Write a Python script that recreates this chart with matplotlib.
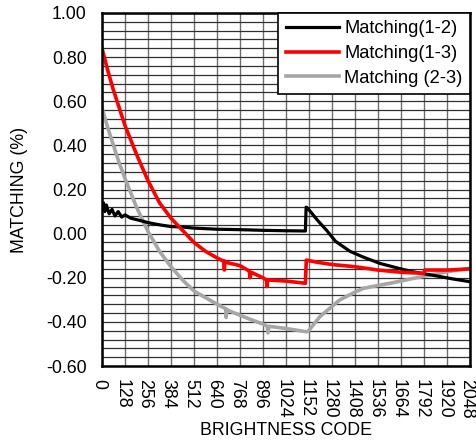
import matplotlib
matplotlib.use("Agg")
import matplotlib.pyplot as plt
import matplotlib.transforms as mtransforms
import numpy as np

plt.rcParams['font.family'] = ['Liberation Sans', 'DejaVu Sans']

# Data (brightness code, matching %)
x12 = [0, 8, 16, 24, 40, 56, 72, 90, 110, 128, 160, 200, 256, 320, 384, 448, 512, 640, 768, 896, 1024, 1132, 1136, 1145, 1160, 1200, 1250, 1300, 1380, 1450, 1547, 1664, 1732, 1850, 1950, 2048]
y12 = [0.12, 0.14, 0.10, 0.13, 0.09, 0.11, 0.08, 0.10, 0.075, 0.085, 0.07, 0.062, 0.05, 0.04, 0.032, 0.03, 0.025, 0.02, 0.018, 0.015, 0.013, 0.012, 0.12, 0.115, 0.10, 0.06, 0.015, -0.035, -0.08, -0.105, -0.135, -0.16, -0.173, -0.19, -0.205, -0.218]

x13 = [0, 32, 64, 96, 128, 192, 256, 320, 384, 448, 512, 576, 640, 678, 681, 684, 690, 768, 820, 824, 830, 896, 915, 918, 922, 1024, 1132, 1137, 1200, 1280, 1408, 1536, 1664, 1790, 1796, 1920, 2048]
y13 = [0.84, 0.74, 0.65, 0.57, 0.49, 0.36, 0.24, 0.14, 0.07, 0.015, -0.04, -0.08, -0.11, -0.125, -0.165, -0.125, -0.13, -0.145, -0.17, -0.20, -0.175, -0.20, -0.21, -0.24, -0.21, -0.215, -0.225, -0.12, -0.13, -0.14, -0.15, -0.165, -0.175, -0.18, -0.165, -0.165, -0.16]

x23 = [0, 32, 64, 96, 128, 192, 256, 320, 384, 448, 512, 576, 640, 688, 691, 694, 768, 830, 896, 920, 924, 930, 1024, 1140, 1150, 1213, 1280, 1324, 1408, 1454, 1536, 1603, 1732, 1825, 1918, 2048]
y23 = [0.57, 0.48, 0.40, 0.32, 0.25, 0.12, 0.01, -0.08, -0.15, -0.21, -0.26, -0.29, -0.32, -0.34, -0.38, -0.345, -0.37, -0.39, -0.41, -0.42, -0.45, -0.42, -0.43, -0.445, -0.44, -0.376, -0.33, -0.30, -0.265, -0.248, -0.235, -0.225, -0.203, -0.188, -0.173, -0.157]

xticks = list(range(0, 2049, 128))
yticks = [-0.6, -0.4, -0.2, 0.0, 0.2, 0.4, 0.6, 0.8, 1.0]

FS = 12.8

fig = plt.figure(figsize=(4.77, 4.45), dpi=100)
ax = fig.add_axes([0.2138, 0.1775, 0.7715, 0.7933])

ax.set_xlim(0, 2048)
ax.set_ylim(-0.6, 1.0)

# grid
for xv in xticks:
    ax.axvline(xv, color='#6e6e6e', lw=1.0, zorder=1)
for yv in np.arange(-0.6, 1.0001, 0.04):
    ax.axhline(yv, color='#303030', lw=0.9, zorder=1)

ax.plot(x12, y12, color='black', lw=2.3, label='Matching(1-2)', zorder=3)
ax.plot(x13, y13, color='#ff0000', lw=2.6, label='Matching(1-3)', zorder=3)
ax.plot(x23, y23, color='#a6a6a6', lw=2.6, label='Matching (2-3)', zorder=2)

ax.set_xticks(xticks)
ax.set_xticklabels([str(v) for v in xticks], rotation=-90, fontsize=FS)
ax.set_yticks(yticks)
ax.set_yticklabels(['%.2f' % v for v in yticks], fontsize=FS)
ax.tick_params(axis='x', length=0, pad=9)
ax.tick_params(axis='y', length=0, pad=11)

shift = mtransforms.ScaledTranslation(-3.0 / 100, 0, fig.dpi_scale_trans)
for lab in ax.get_xticklabels():
    lab.set_transform(lab.get_transform() + shift)

for s in ax.spines.values():
    s.set_linewidth(1.8)
    s.set_color('black')
    s.set_zorder(5)

ax.set_xlabel('BRIGHTNESS CODE', fontsize=FS, labelpad=3)
ax.set_ylabel('MATCHING (%)', fontsize=FS, labelpad=13)

leg = ax.legend(loc='upper right', fontsize=13.2, frameon=True, fancybox=False,
                edgecolor='black', framealpha=1, borderaxespad=0, handlelength=2.9,
                labelspacing=0.42, borderpad=0.4, handletextpad=0.3)
leg.get_frame().set_linewidth(1.2)
leg.set_zorder(6)

fig.savefig('out.png', dpi=100)
